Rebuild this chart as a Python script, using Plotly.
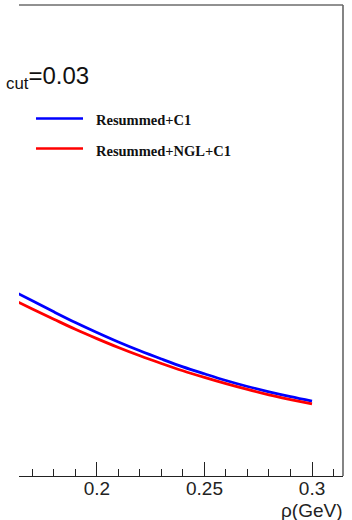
import plotly.graph_objects as go

# data; y in arbitrary units (axis not shown)
rho = [0.16, 0.17, 0.18, 0.19, 0.20, 0.21, 0.22, 0.23, 0.24, 0.25, 0.26, 0.27, 0.28, 0.29, 0.30]
resummed_c1 = [3.953, 3.720, 3.486, 3.259, 3.047, 2.845, 2.658, 2.484, 2.318, 2.170, 2.028, 1.900, 1.788, 1.686, 1.592]
resummed_ngl_c1 = [3.769, 3.546, 3.329, 3.115, 2.917, 2.728, 2.552, 2.389, 2.234, 2.093, 1.960, 1.837, 1.724, 1.624, 1.529]
series_names = ["Resummed+C1", "Resummed+NGL+C1"]
series_colors = ["#0000ff", "#ff0000"]
tick_vals = [0.2, 0.25, 0.3]
tick_text = ["0.2", "0.25", "0.3"]

W, H = 352, 520
L, R, T, B = 19, 9, 5, 44
pw, ph = W - L - R, H - T - B

def px(x):
    return (x - L) / pw

def py(y):
    return (H - B - y) / ph

fig = go.Figure()
for ys, name, col in zip([resummed_c1, resummed_ngl_c1], series_names, series_colors):
    fig.add_trace(go.Scatter(x=rho, y=ys, mode="lines", name=name,
                             line=dict(color=col, width=2.8, shape="spline"),
                             showlegend=False))

shapes = [
    dict(type="line", xref="paper", yref="paper", x0=0, x1=1, y0=1, y1=1,
         line=dict(color="#222", width=1)),
    dict(type="line", xref="paper", yref="paper", x0=1, x1=1, y0=0, y1=1,
         line=dict(color="#666", width=1.6)),
]
annotations = []
leg_y = [118.5, 148.5]
for name, col, yy in zip(series_names, series_colors, leg_y):
    shapes.append(dict(type="line", xref="paper", yref="paper",
                       x0=px(36), x1=px(83), y0=py(yy), y1=py(yy),
                       line=dict(color=col, width=2.6)))
    annotations.append(dict(xref="paper", yref="paper", x=px(94), y=py(yy + 2),
                            xanchor="left", yanchor="middle", showarrow=False,
                            text="<b>" + name + "</b>",
                            font=dict(family="Liberation Sans" if False else "Liberation Serif", size=14.5, color="#111")))

annotations.append(dict(xref="paper", yref="paper", x=px(4), y=py(78),
                        xanchor="left", yanchor="middle", showarrow=False,
                        text="<sub>cut</sub>=0.03",
                        font=dict(family="Liberation Sans", size=24, color="#111")))
annotations.append(dict(xref="paper", yref="paper", x=1.004, y=py(510),
                        xanchor="right", yanchor="middle", showarrow=False,
                        text="ρ(GeV)",
                        font=dict(family="Liberation Sans", size=19, color="#222")))

fig.update_layout(
    width=W, height=H,
    margin=dict(l=L, r=R, t=T, b=B, pad=0),
    paper_bgcolor="white", plot_bgcolor="white",
    shapes=shapes, annotations=annotations,
    xaxis=dict(range=[0.1638, 0.3144], tickmode="array", tickvals=tick_vals, ticktext=tick_text,
               ticks="inside", ticklen=14, tickwidth=1, tickcolor="#222",
               showline=True, linecolor="#222", linewidth=1,
               showgrid=False, zeroline=False, ticklabelstandoff=-5,
               tickfont=dict(family="Liberation Sans", size=19, color="#222"),
               minor=dict(tickmode="linear", tick0=0.2, dtick=0.01, ticks="inside",
                          ticklen=7, tickwidth=1, tickcolor="#222", showgrid=False)),
    yaxis=dict(range=[0, 10], visible=False),
)

fig.write_html("out.html")
